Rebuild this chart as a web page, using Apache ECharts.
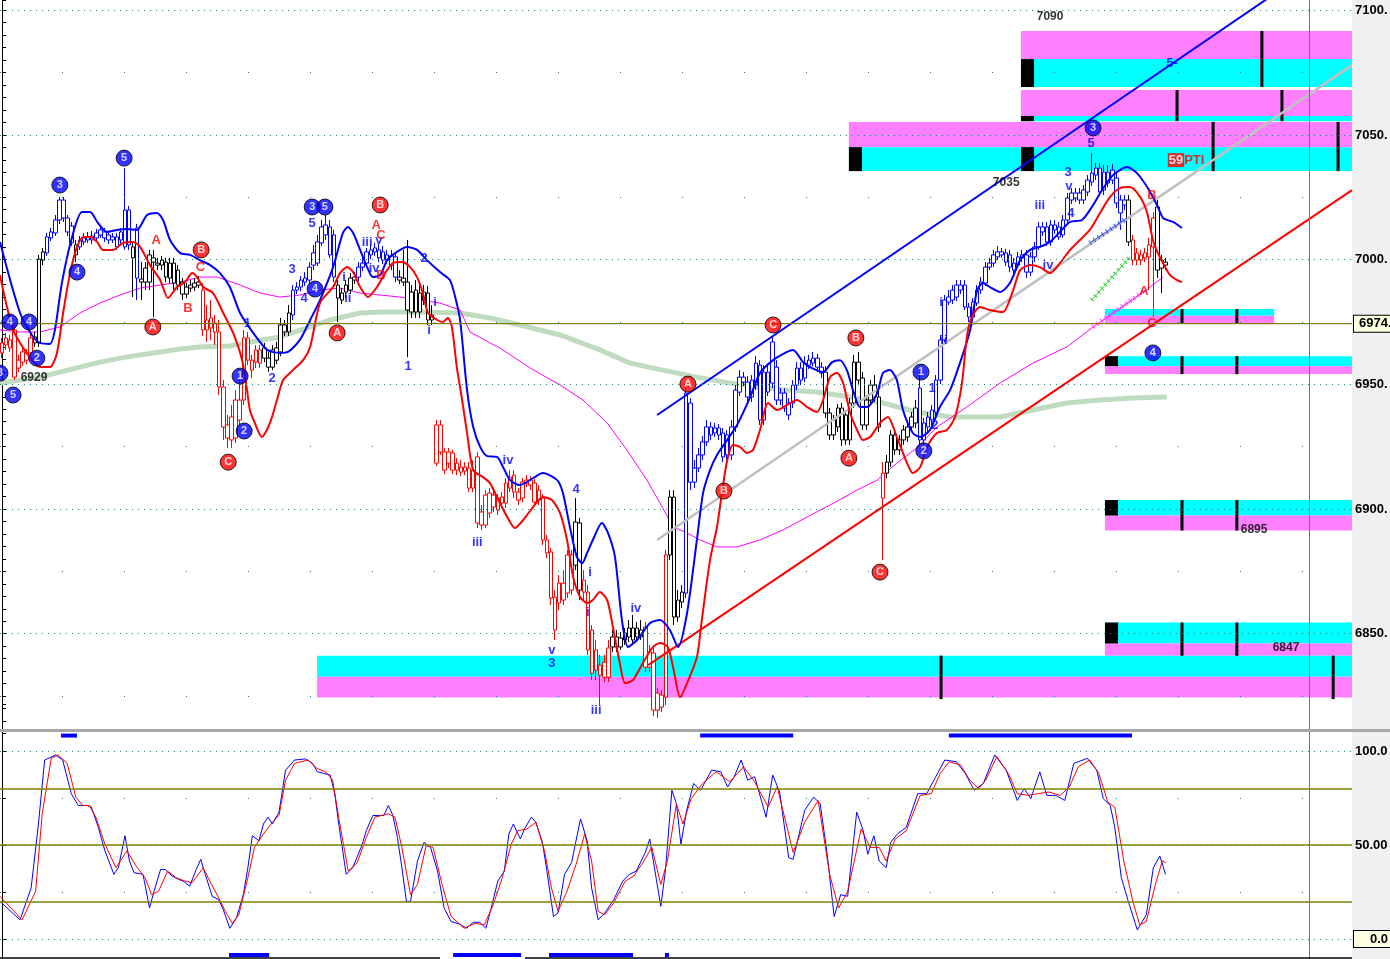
<!DOCTYPE html>
<html><head><meta charset="utf-8">
<script src="https://cdn.jsdelivr.net/npm/echarts@6/dist/echarts.min.js"></script>
<style>html,body{margin:0;padding:0;background:#f0f0f0;overflow:hidden}#c{width:1390px;height:990px}</style>
</head><body><div id="c"></div>
<script>
// ---------------- DATA ----------------
// candles: [open, close, low, high], one per bar
const candles = [
[6966.6,6962.6,6960.5,6968.6],[6965.8,6968.6,6963.8,6970.6],[6964.6,6967.8,6963.0,6969.8],[6971.8,6952.9,6951.7,6973.8],
[6956.5,6959.7,6954.9,6961.8],[6958.9,6963.0,6957.3,6964.6],[6959.7,6962.6,6958.1,6964.2],[6962.6,6968.6,6960.9,6970.6],
[6969.0,6966.6,6965.0,6971.0],[6966.6,7000.2,6965.0,7001.9],[6999.8,7003.1,6997.8,7004.7],[7002.7,7009.1,7001.5,7010.7],
[7008.7,7011.1,7007.5,7012.7],[7010.7,7015.9,7009.5,7017.9],[7015.9,7023.9,7014.3,7025.1],[7023.9,7016.7,7015.1,7025.1],
[7016.7,7011.1,7009.5,7017.9],[7013.5,7006.7,7005.5,7015.1],[7005.9,7001.9,6999.0,7007.9],[7005.1,7007.9,7003.9,7009.5],
[7007.1,7008.7,7005.9,7010.7],[7007.9,7009.1,7006.7,7011.1],[7007.9,7009.5,7006.3,7011.5],[7008.7,7010.7,7007.1,7012.3],
[7009.9,7011.9,7008.7,7013.5],[7011.1,7008.7,7007.1,7012.7],[7009.9,7007.9,7006.3,7011.5],[7007.9,7009.1,7006.7,7010.7],
[7009.1,7005.1,7003.9,7010.7],[7007.9,7011.1,7006.3,7012.7],[7005.1,7019.9,7003.9,7036.7],[7019.9,7005.9,7003.9,7021.5],
[7005.1,7000.7,6985.0,7006.7],[7012.7,6992.6,6983.8,7014.3],[6992.2,6991.0,6983.8,6999.0],[6991.0,6996.6,6987.8,6999.0],
[6991.0,7001.9,6987.8,7003.9],[7000.7,6999.0,6977.0,7003.9],[6998.6,6997.8,6995.8,7000.7],[6997.8,6999.8,6995.8,7001.5],
[6999.0,6993.0,6991.0,7000.7],[6992.6,6998.6,6990.6,7000.7],[6998.6,6990.6,6987.8,7000.7],[6995.8,6989.8,6987.8,6997.8],
[6991.0,6986.2,6983.8,6992.6],[6986.2,6989.0,6984.6,6990.6],[6989.8,6988.6,6987.0,6991.8],[6989.0,6990.6,6987.4,6992.6],
[6991.0,6989.8,6988.6,6993.4],[6987.8,6971.8,6969.4,6990.6],[6971.8,6975.8,6967.0,6981.8],[6972.6,6976.6,6967.8,6983.8],
[6974.6,6971.0,6965.8,6977.8],[6971.0,6948.9,6945.7,6975.8],[6948.9,6932.9,6927.7,6951.7],[6933.7,6928.5,6924.5,6937.7],
[6927.7,6936.9,6924.5,6941.7],[6928.5,6943.7,6926.5,6947.7],[6935.7,6943.7,6933.7,6951.7],[6943.7,6968.6,6941.7,6971.8],
[6968.6,6959.7,6957.7,6971.0],[6955.7,6959.7,6952.5,6961.8],[6963.8,6958.9,6956.5,6965.8],[6958.5,6963.8,6956.5,6965.8],
[6964.6,6960.5,6958.9,6966.6],[6960.5,6956.9,6954.9,6963.0],[6956.9,6963.8,6955.7,6965.8],[6959.7,6964.6,6958.1,6967.0],
[6963.0,6973.8,6961.3,6976.6],[6973.8,6971.0,6969.4,6975.8],[6971.0,6978.6,6969.4,6981.8],[6977.8,6987.8,6975.8,6989.8],
[6987.8,6989.0,6986.2,6991.0],[6989.0,6991.8,6987.4,6993.4],[6991.0,6992.6,6989.4,6995.0],[6991.8,6997.0,6990.2,6999.0],
[6997.8,7002.7,6995.8,7005.9],[6998.6,7007.1,6997.4,7009.9],[7006.7,7013.1,7005.5,7015.9],[7009.9,7013.9,7007.9,7017.9],
[7013.1,7001.9,7000.7,7015.9],[7009.9,6993.0,6991.0,7011.9],[6989.8,6984.6,6975.0,6991.8],[6986.6,6983.8,6982.2,6988.6],
[6987.0,6989.8,6984.6,6991.8],[6987.8,6992.6,6986.2,6994.6],[6991.8,6993.0,6990.2,6995.0],[6993.0,6997.0,6991.4,6999.0],
[6997.0,6998.6,6995.4,7001.5],[6998.6,7003.1,6997.0,7004.7],[7001.9,7003.9,7000.2,7005.9],[7003.1,7004.7,7001.5,7006.7],
[7003.9,7000.7,6999.0,7006.3],[7003.1,6999.8,6998.2,7005.5],[6999.8,7001.9,6998.2,7003.9],[7001.5,6997.8,6995.8,7003.9],
[7001.1,6993.0,6991.0,7002.7],[6993.0,6991.8,6990.2,6995.8],[6992.6,6991.0,6989.4,7003.9],[6991.0,6979.8,6960.9,7007.9],
[6979.0,6987.0,6976.6,6989.8],[6987.8,6979.0,6976.6,6991.8],[6979.0,6986.6,6976.6,6989.8],[6983.8,6987.0,6981.8,6989.8],
[6986.6,6975.8,6973.8,6989.4],[6975.8,6977.8,6973.8,6981.8],[6918.4,6933.7,6917.2,6935.7],[6933.7,6922.9,6921.7,6935.7],
[6915.6,6922.9,6914.0,6924.5],[6922.9,6918.4,6916.4,6924.5],[6915.6,6922.5,6914.0,6923.7],[6918.4,6915.6,6913.6,6920.5],
[6914.8,6916.8,6913.2,6919.6],[6915.2,6916.8,6913.6,6918.8],[6916.4,6908.4,6906.8,6918.8],[6908.4,6915.6,6906.8,6919.6],
[6920.9,6894.4,6892.4,6922.9],[6893.6,6898.8,6891.6,6901.6],[6893.6,6905.6,6892.4,6907.6],[6898.4,6906.4,6896.4,6908.4],
[6905.6,6900.8,6898.8,6907.6],[6904.4,6899.6,6897.6,6906.0],[6902.4,6904.8,6900.4,6906.8],[6902.4,6910.4,6900.4,6912.4],
[6908.4,6912.8,6906.8,6915.6],[6913.6,6906.8,6904.4,6915.6],[6906.8,6903.6,6901.6,6908.4],[6904.4,6910.8,6902.8,6912.4],
[6910.4,6911.6,6908.8,6913.6],[6909.6,6911.6,6907.6,6913.2],[6910.4,6902.8,6901.2,6912.0],[6907.6,6903.6,6901.6,6909.6],
[6904.4,6887.6,6885.6,6906.0],[6887.6,6882.4,6880.3,6889.6],[6882.8,6864.3,6861.5,6884.4],[6864.7,6851.5,6847.5,6867.5],
[6862.3,6870.3,6859.5,6873.5],[6863.5,6870.3,6861.5,6875.5],[6866.3,6881.6,6864.3,6883.6],[6881.6,6867.5,6865.5,6883.6],
[6877.5,6894.8,6875.5,6904.4],[6894.4,6867.5,6863.5,6896.4],[6871.5,6866.7,6863.5,6875.5],[6866.7,6843.5,6841.5,6869.5],
[6851.5,6834.2,6831.4,6853.5],[6843.5,6835.4,6831.4,6847.5],[6833.4,6837.4,6821.4,6841.5],[6838.6,6832.6,6830.6,6841.5],
[6832.6,6844.3,6830.6,6847.5],[6844.7,6848.7,6842.7,6851.5],[6848.7,6844.7,6842.7,6851.5],[6844.7,6848.3,6843.5,6850.7],
[6847.5,6850.3,6845.5,6852.3],[6848.7,6852.3,6846.7,6855.5],[6852.3,6847.5,6845.5,6857.5],[6848.7,6852.3,6846.7,6854.7],
[6848.7,6851.5,6847.5,6855.5],[6852.7,6836.6,6834.6,6854.7],[6836.6,6842.7,6834.6,6845.5],[6842.3,6819.4,6817.0,6844.3],
[6826.2,6819.4,6816.2,6828.2],[6820.6,6825.4,6818.6,6827.4],[6824.6,6881.6,6821.4,6883.6],[6881.6,6904.8,6879.5,6907.6],
[6904.8,6856.7,6853.5,6907.6],[6856.7,6863.5,6854.7,6867.5],[6862.7,6866.7,6860.3,6869.5],[6866.3,6946.5,6864.3,6949.7],
[6942.5,6910.8,6907.6,6944.5],[6910.8,6916.4,6908.4,6919.6],[6916.4,6921.7,6914.8,6924.5],[6921.7,6926.9,6919.6,6929.3],
[6926.9,6932.9,6925.3,6935.7],[6932.9,6929.7,6927.7,6934.9],[6930.5,6932.5,6928.9,6934.5],[6932.5,6929.7,6927.7,6934.1],
[6930.5,6920.9,6918.8,6932.5],[6929.7,6921.7,6919.6,6931.7],[6921.7,6932.9,6919.6,6935.7],[6932.9,6947.7,6930.9,6949.7],
[6946.9,6952.9,6945.3,6955.7],[6950.9,6952.9,6949.3,6954.9],[6950.9,6944.9,6942.9,6953.3],[6944.9,6951.7,6942.9,6953.7],
[6949.7,6958.5,6947.7,6961.3],[6957.7,6935.7,6933.7,6959.7],[6935.7,6954.9,6933.7,6957.7],[6954.9,6946.9,6945.3,6957.7],
[6967.0,6950.5,6948.5,6969.4],[6956.9,6943.7,6941.7,6959.7],[6943.7,6946.5,6941.7,6948.5],[6946.5,6940.5,6938.9,6948.5],
[6937.7,6942.5,6935.7,6944.5],[6942.5,6949.7,6940.5,6951.7],[6949.7,6956.5,6947.7,6958.9],[6956.5,6951.7,6949.7,6958.9],
[6952.5,6958.5,6950.9,6961.3],[6957.7,6959.7,6956.1,6961.8],[6958.5,6960.5,6957.3,6963.0],[6960.5,6956.9,6954.9,6962.2],
[6956.9,6954.5,6952.5,6958.9],[6954.9,6938.5,6936.5,6957.3],[6938.5,6929.7,6927.7,6940.5],[6929.7,6935.7,6927.7,6937.7],
[6932.9,6940.5,6930.9,6942.1],[6940.5,6927.7,6925.3,6942.5],[6937.7,6927.7,6925.7,6939.7],[6927.7,6942.5,6925.7,6944.5],
[6942.5,6958.9,6940.5,6961.8],[6958.9,6951.7,6949.7,6963.0],[6952.5,6933.7,6931.7,6954.9],[6933.7,6943.7,6931.7,6945.7],
[6943.7,6949.7,6941.7,6951.7],[6949.7,6944.9,6942.9,6953.7],[6944.9,6932.9,6930.9,6947.7],[6904.4,6914.4,6879.5,6918.8],
[6914.4,6918.8,6912.4,6921.7],[6918.8,6929.7,6916.8,6931.7],[6929.7,6923.7,6921.7,6931.7],[6923.7,6927.7,6921.7,6929.7],
[6927.7,6931.7,6925.7,6933.7],[6928.9,6932.9,6926.9,6935.7],[6932.9,6936.9,6930.9,6938.9],[6934.5,6940.5,6932.5,6943.7],
[6948.5,6927.7,6925.7,6954.9],[6927.7,6934.5,6925.7,6936.5],[6932.9,6936.9,6930.9,6938.9],[6935.7,6939.7,6933.7,6941.7],
[6938.9,6951.7,6937.3,6953.7],[6951.7,6967.8,6950.1,6969.8],[6967.8,6983.8,6965.8,6985.8],[6983.0,6985.0,6981.8,6987.8],
[6983.8,6987.8,6982.2,6989.8],[6985.0,6989.8,6983.4,6991.8],[6987.8,6989.8,6986.2,6991.8],[6989.8,6981.0,6979.8,6991.8],
[6981.0,6977.0,6975.0,6982.6],[6977.0,6983.0,6975.8,6984.6],[6982.6,6987.8,6981.4,6989.8],[6987.8,6991.0,6986.2,6993.0],
[6990.6,6997.0,6989.4,6999.0],[6997.0,6998.6,6995.8,7000.7],[6998.6,7001.9,6997.0,7003.9],[7001.1,7003.1,6999.8,7005.5],
[7001.9,7003.1,7000.7,7004.7],[7002.7,6999.0,6997.4,7004.3],[7001.9,6997.0,6995.0,7003.9],[6995.8,6998.6,6994.2,7000.7],
[6997.8,7001.1,6996.6,7003.1],[7000.7,7001.9,6999.0,7003.9],[7001.9,6995.0,6992.6,7003.9],[6995.0,7001.1,6993.4,7003.1],
[7001.1,7005.1,6999.0,7007.1],[7005.1,7013.1,7003.9,7015.1],[7011.1,7013.1,7009.5,7015.1],[7013.1,7007.1,7005.5,7015.1],
[7007.1,7013.9,7005.5,7015.9],[7011.9,7013.9,7010.3,7015.9],[7013.1,7009.1,7007.9,7015.1],[7009.9,7015.9,7008.7,7017.9],
[7015.9,7024.7,7014.3,7026.7],[7023.9,7026.7,7022.3,7028.7],[7024.7,7026.7,7023.1,7028.7],[7026.7,7023.9,7022.3,7028.7],
[7023.9,7027.9,7022.3,7029.9],[7027.1,7031.9,7025.5,7033.9],[7031.1,7034.7,7029.5,7042.7],[7033.9,7036.7,7031.9,7038.7],
[7036.7,7027.1,7025.5,7038.7],[7035.1,7027.9,7025.9,7037.9],[7030.7,7035.1,7029.1,7037.9],[7031.9,7035.9,7030.3,7038.3],
[7032.7,7022.7,7020.7,7035.1],[7018.7,7023.9,7011.9,7025.9],[7021.9,7023.9,7019.9,7025.9],[7023.9,7007.1,7005.5,7025.9],
[7007.9,6999.8,6997.8,7009.9],[6999.8,7002.7,6997.8,7004.7],[7001.9,6999.8,6997.8,7003.9],[7000.7,7002.7,6999.0,7004.7],
[7001.1,7005.9,6987.8,7008.7],[7005.1,7016.7,6977.0,7019.1],[7021.1,6995.8,6992.6,7023.9],[6996.6,6999.8,6986.6,7001.9],
[6999.0,6997.8,6995.8,7000.7]
];
// trend state per bar range: [firstBar, lastBar, state]
const trendSegments = [
[0,7,'down'],[8,10,'flat'],[11,17,'up'],[18,18,'flat'],[19,31,'up'],[32,32,'flat'],[33,33,'up'],[34,48,'flat'],
[49,63,'down'],[64,70,'flat'],[71,81,'up'],[82,86,'flat'],[87,96,'up'],[97,105,'flat'],[106,139,'down'],[140,141,'flat'],
[142,148,'down'],[149,156,'flat'],[157,162,'down'],[163,166,'flat'],[167,200,'up'],[201,214,'flat'],[215,215,'down'],
[216,223,'flat'],[224,274,'up'],[275,275,'flat'],[276,281,'down'],[282,284,'flat']
];
// indicator curves: [bar, price]
const blueBand = [[-0.5,7007.1],[4.4,6978.6],[7.6,6969.0],[9.3,6966.6],[11.7,6966.2],[12.9,6971.8],[14.6,6990.6],[17.1,7009.1],[19.5,7019.1],[21.5,7019.1],[23.4,7014.7],[25.6,7011.1],[28.1,7011.9],[30.5,7012.3],[32.9,7011.9],[35.4,7017.9],[37.8,7018.7],[39.3,7015.9],[41.0,7007.9],[43.4,7002.7],[45.9,7001.9],[48.3,6999.8],[50.8,6997.8],[53.2,6994.6],[55.6,6989.0],[58.1,6978.6],[61.3,6970.6],[64.7,6963.8],[67.8,6962.6],[69.8,6963.0],[72.7,6967.8],[75.2,6975.8],[77.6,6983.8],[80.8,6997.0],[83.2,7010.7],[84.4,7013.1],[85.7,7010.7],[87.4,7003.9],[89.1,6997.0],[90.5,6993.0],[92.3,6993.8],[94.0,6999.8],[96.4,7003.1],[98.8,7005.1],[101.3,7003.9],[103.7,6999.8],[106.9,6995.0],[109.3,6991.8],[110.6,6985.0],[111.8,6975.8],[113.5,6947.7],[115.0,6932.9],[116.7,6924.9],[118.4,6921.2],[120.8,6920.9],[122.3,6916.8],[124.0,6911.6],[126.4,6909.6],[129.6,6912.4],[132.0,6914.4],[135.5,6911.6],[136.9,6906.4],[138.6,6892.8],[140.3,6880.8],[141.6,6878.3],[142.8,6882.4],[144.2,6887.6],[146.4,6894.4],[147.9,6890.4],[149.6,6880.8],[151.3,6855.5],[152.8,6844.7],[155.0,6847.5],[158.2,6854.3],[160.6,6855.5],[163.0,6851.5],[165.0,6844.7],[167.2,6858.3],[169.6,6887.6],[171.1,6906.4],[172.8,6915.6],[174.5,6921.7],[177.0,6927.7],[179.4,6933.7],[182.6,6944.9],[185.0,6954.5],[188.2,6959.7],[191.6,6963.0],[193.1,6963.8],[195.5,6958.9],[197.2,6956.9],[200.4,6954.9],[202.6,6958.9],[204.5,6959.7],[206.2,6955.7],[207.7,6947.7],[209.4,6940.9],[211.1,6940.9],[213.6,6946.5],[215.0,6954.5],[216.7,6955.7],[218.4,6951.7],[219.9,6939.7],[222.3,6930.5],[224.1,6928.9],[226.5,6931.7],[228.9,6940.9],[231.4,6947.7],[233.8,6958.5],[236.3,6971.8],[238.0,6987.8],[239.4,6990.6],[241.1,6989.0],[243.6,6987.0],[246.0,6990.6],[248.5,6999.8],[250.9,7003.9],[253.3,7005.1],[255.8,7007.1],[258.2,7011.1],[260.7,7015.1],[263.6,7015.9],[266.0,7021.1],[268.5,7027.9],[271.2,7033.9],[274.6,7037.1],[277.0,7034.7],[279.5,7029.1],[281.9,7021.9],[283.4,7016.7],[285.8,7015.1],[288.0,7012.7]];
const redBand = [[-0.5,6993.8],[1.2,6981.0],[2.7,6971.8],[4.4,6966.6],[6.8,6960.9],[9.3,6956.9],[11.7,6956.9],[13.4,6962.6],[14.9,6978.6],[16.6,6994.6],[18.3,7005.1],[19.8,7009.1],[21.5,7009.1],[23.2,7007.1],[24.6,7003.9],[27.1,7003.9],[29.5,7006.7],[32.0,7007.1],[33.7,7005.1],[36.1,6997.8],[38.6,6991.8],[40.5,6984.6],[42.7,6989.0],[44.7,6991.0],[46.4,6994.6],[47.6,6993.0],[49.1,6989.0],[51.5,6986.6],[54.0,6978.6],[56.4,6970.6],[58.6,6959.7],[59.8,6947.7],[60.5,6939.7],[61.7,6934.5],[63.4,6928.9],[65.4,6934.5],[67.1,6943.7],[68.6,6951.7],[71.0,6955.7],[73.5,6959.7],[75.2,6965.0],[77.6,6982.6],[80.8,6989.0],[82.5,6994.6],[84.2,6997.0],[85.7,6995.0],[87.4,6989.0],[89.3,6985.0],[91.5,6989.0],[93.5,6994.6],[95.4,6998.6],[97.6,6999.0],[99.6,6997.0],[101.3,6993.0],[102.7,6986.6],[104.0,6978.6],[106.2,6975.8],[107.6,6975.0],[108.8,6976.6],[109.8,6973.0],[111.0,6956.9],[112.3,6943.7],[113.5,6930.5],[115.0,6915.6],[117.4,6912.8],[119.1,6910.4],[120.8,6904.8],[123.3,6896.8],[125.2,6892.4],[127.2,6895.6],[129.6,6900.8],[132.0,6904.8],[134.2,6903.6],[136.2,6898.4],[137.9,6887.6],[139.4,6872.7],[141.1,6864.7],[142.8,6862.3],[144.2,6863.5],[145.9,6866.7],[147.7,6863.5],[149.1,6852.7],[150.8,6838.2],[152.1,6830.2],[154.0,6831.4],[156.4,6838.2],[158.9,6844.7],[160.6,6846.3],[162.5,6844.7],[163.8,6836.6],[165.5,6824.6],[167.2,6830.2],[169.6,6840.6],[170.8,6855.5],[172.8,6879.5],[174.5,6892.8],[175.7,6906.4],[177.0,6919.6],[178.4,6925.7],[180.1,6924.9],[181.8,6922.5],[183.3,6923.7],[185.0,6931.7],[187.0,6942.5],[189.2,6939.7],[191.6,6941.7],[194.0,6943.7],[196.5,6940.9],[198.9,6938.9],[200.4,6943.7],[202.1,6952.9],[203.8,6954.5],[205.3,6950.5],[207.0,6938.5],[208.7,6931.7],[210.1,6927.7],[211.9,6928.9],[214.3,6934.5],[216.2,6936.9],[218.4,6928.9],[220.9,6918.4],[222.3,6914.4],[224.1,6916.8],[225.8,6924.9],[228.2,6930.5],[230.6,6931.7],[232.6,6936.9],[234.3,6950.5],[235.5,6969.0],[236.7,6977.0],[238.7,6981.0],[241.1,6979.8],[244.3,6979.0],[246.8,6987.8],[248.5,6995.8],[250.9,6997.8],[253.3,6997.0],[255.8,6994.6],[258.2,6998.6],[260.7,7003.9],[263.1,7007.9],[265.5,7011.9],[268.0,7018.7],[270.4,7025.1],[272.9,7028.7],[275.3,7029.1],[277.8,7025.1],[279.5,7018.7],[280.9,7007.9],[282.1,7002.7],[283.9,6997.0],[285.1,6993.8],[286.8,6991.8],[288.0,6991.0]];
const magentaMA = [[-0.5,6971.8],[4.4,6971.0],[9.3,6971.0],[14.1,6973.0],[19.0,6978.6],[23.9,6982.6],[28.8,6985.8],[33.7,6988.6],[38.6,6989.8],[43.4,6991.0],[48.3,6993.0],[52.5,6993.0],[58.1,6989.8],[63.0,6986.6],[67.8,6985.0],[72.7,6985.8],[77.6,6987.8],[82.5,6988.6],[87.4,6986.6],[92.3,6985.8],[97.1,6985.0],[102.0,6983.8],[106.9,6982.6],[111.8,6979.8],[114.2,6971.0],[119.1,6966.6],[121.5,6964.6],[128.9,6956.5],[136.2,6949.7],[141.8,6943.7],[147.7,6934.5],[152.5,6923.7],[157.4,6911.6],[160.6,6902.4],[163.8,6892.8],[167.2,6890.4],[170.4,6887.6],[174.5,6884.8],[179.4,6884.8],[185.0,6887.6],[190.6,6891.6],[196.5,6896.8],[202.1,6901.6],[208.7,6907.6],[213.6,6911.6],[218.4,6918.4],[223.3,6924.5],[228.2,6932.9],[235.5,6940.9],[243.6,6950.5],[251.6,6958.5],[259.9,6965.0],[266.3,6973.0],[276.0,6983.8],[283.4,6993.0]];
const greenMA = [[-0.5,6950.5],[4.4,6951.7],[9.3,6952.9],[14.1,6954.9],[19.0,6956.9],[23.9,6958.9],[28.8,6960.5],[33.7,6961.8],[38.6,6963.0],[43.4,6964.2],[48.3,6965.0],[55.6,6965.4],[60.5,6967.0],[67.8,6969.0],[75.2,6973.0],[80.0,6975.8],[87.4,6978.6],[92.3,6979.0],[102.0,6979.0],[111.8,6978.6],[119.1,6976.6],[126.4,6973.8],[136.2,6969.8],[145.9,6963.8],[153.3,6958.5],[161.3,6955.7],[169.6,6952.9],[177.7,6950.5],[190.6,6947.7],[198.9,6946.9],[207.0,6944.9],[215.0,6942.5],[223.3,6938.9],[231.4,6936.9],[243.6,6936.9],[251.6,6939.7],[259.9,6942.5],[268.0,6943.7],[276.0,6944.5],[284.3,6944.9]];
// trend channel and projection lines: [bar, price]
const channelBlue = [[159.9,6937.7],[309.0,7104.8]];
const channelRed = [[157.7,6837.4],[329.5,7027.9]];
const channelGrey = [[159.9,6887.6],[329.5,7078.0]];
const projBlue = [[265.5,7006.7],[274.6,7016.7]];
const projGreen = [[266.0,6983.8],[275.3,7001.1]];
const projMagenta = [[266.3,6973.0],[279.0,6987.8]];
// target zones: [fromBar, toBar, topPrice, splitPrice, bottomPrice, upperBand]
const zoneBands = [
[248.7,329.5,7091.7,7080.4,7069.2,'m'],[248.7,329.5,7068.0,7057.6,7055.5,'m'],[206.7,329.5,7055.2,7045.1,7035.5,'m'],
[269.2,310.5,6980.2,6977.5,6974.3,'c'],[269.2,329.5,6961.3,6957.3,6954.1,'c'],[269.2,329.5,6903.6,6897.4,6891.4,'c'],
[269.2,329.5,6854.5,6846.1,6841.2,'c'],[76.9,329.5,6841.2,6832.8,6824.4,'c']
];
const zoneBlocks = [[248.7,251.9,7080.4,7069.2],[248.7,251.9,7057.6,7055.5],[206.7,209.9,7045.1,7035.5],[248.7,251.9,7045.1,7035.5],
[269.2,272.4,6961.3,6957.3],[269.2,272.4,6903.6,6897.4],[269.2,272.4,6854.5,6846.1]];
const zoneTicks = [[307.5,7091.7,7069.2],[286.8,7068.0,7055.5],[312.4,7068.0,7055.5],[295.6,7055.2,7035.5],[326.1,7055.2,7035.5],
[288.0,6980.2,6974.3],[301.4,6980.2,6974.3],[288.0,6961.3,6954.1],[301.4,6961.3,6954.1],[288.0,6903.6,6891.4],[301.4,6903.6,6891.4],
[288.0,6854.5,6841.2],[301.4,6854.5,6841.2],[229.2,6841.2,6823.8],[324.9,6841.2,6823.8]];
// wave labels: [bar, price, text]
const blueCircleLabels = [[-0.5,6954.5,'3'],[1.9,6975.0,'4'],[2.7,6945.7,'5'],[6.6,6975.0,'4'],[8.5,6960.5,'2'],[14.1,7029.9,'3'],[18.3,6995.0,'4'],[29.8,7040.7,'5'],[58.1,6953.3,'1'],[59.1,6931.3,'2'],[75.7,7021.1,'3'],[78.8,7021.1,'5'],[76.4,6988.2,'4'],[224.3,6954.9,'1'],[225.0,6923.3,'2'],[266.3,7052.8,'3'],[280.9,6962.6,'4']];
const redCircleLabels = [[36.8,6973.0,'A'],[48.6,7003.9,'B'],[55.2,6918.8,'C'],[81.8,6970.6,'A'],[92.3,7021.9,'B'],[167.4,6950.1,'A'],[176.2,6907.2,'B'],[188.2,6973.8,'C'],[208.4,6968.6,'B'],[206.7,6920.4,'A'],[214.3,6874.7,'C']];
const blueTextLabels = [[59.9,6974.6,'1'],[65.9,6952.5,'2'],[70.8,6996.2,'3'],[73.7,6984.6,'4'],[75.7,7014.7,'5'],[83.5,6993.0,'i'],[84.4,6984.6,'ii'],[89.1,7007.1,'iii'],[92.0,7007.9,'v'],[90.8,6996.6,'iv'],[99.1,6957.3,'1'],[103.0,7000.6,'2'],[105.7,6983.0,'i'],[104.2,6971.8,'i'],[116.0,6886.8,'iii'],[123.5,6919.6,'iv'],[134.2,6843.5,'v'],[134.2,6838.2,'3'],[140.1,6908.0,'4'],[143.5,6874.7,'i'],[143.0,6858.7,'i'],[145.0,6819.4,'iii'],[154.7,6860.3,'iv'],[227.0,6948.5,'1'],[227.7,6933.7,'2'],[229.2,6983.0,'i'],[229.9,6967.8,'ii'],[253.3,7021.9,'iii'],[255.3,6997.8,'iv'],[260.2,7035.1,'3'],[260.4,7029.5,'v'],[260.9,7018.7,'4'],[265.8,7046.4,'5'],[285.6,7078.8,'5-']];
const redTextLabels = [[37.6,7007.9,'A'],[45.4,6980.6,'B'],[48.4,6997.0,'C'],[91.3,7013.9,'A'],[92.5,7009.9,'C'],[92.5,6993.8,'B'],[280.7,7025.9,'B'],[278.7,6987.4,'A'],[280.7,6974.6,'C']];
const blackTextLabels = [[7.8,6952.5,'6929'],[255.8,7097.3,'7090'],[245.1,7030.8,'7035'],[305.6,6891.9,'6895'],[313.4,6844.3,'6847']];
const ptiLabel = [[289.0,7039.9,'59','PTI']];
const lastPrice = 6974.3, lastPriceText = '6974.';
const cursorBar = 319.0;
const priceLabelValues = [6850,6900,6950,7000,7050,7100];
// stochastic: [bar, value]
const stochK = [[-0.5,20.0],[4.4,10.2],[7.1,27.2],[8.8,59.4],[10.4,95.2],[13.1,97.9],[14.8,95.2],[16.9,77.3],[18.6,71.0],[20.8,71.0],[21.8,70.2],[23.5,59.4],[25.1,46.9],[27.3,34.4],[28.4,37.9],[30.0,54.9],[31.1,41.5],[32.2,35.3],[34.4,34.4],[36.0,16.5],[37.1,25.4],[38.7,37.0],[39.8,37.0],[41.5,33.5],[43.1,31.7],[44.2,30.8],[45.8,28.1],[47.4,37.0],[48.5,42.4],[49.6,34.4],[51.3,22.7],[52.9,20.9],[54.0,15.6],[55.6,5.7],[57.2,11.1],[58.9,23.6],[60.0,37.9],[61.1,54.9],[62.7,52.3],[63.8,61.2],[64.9,64.8],[66.0,61.2],[67.6,67.5],[69.2,89.8],[71.4,95.2],[74.1,95.8],[75.8,93.4],[76.9,89.0],[78.5,88.1],[80.1,87.2],[81.2,77.3],[82.3,59.4],[84.0,34.4],[85.6,37.9],[87.8,49.6],[88.9,57.6],[90.5,65.7],[93.2,65.7],[94.3,71.0],[95.4,65.7],[96.5,54.0],[97.6,37.9],[98.7,20.0],[99.7,20.0],[101.4,41.5],[103.0,51.4],[104.6,48.7],[106.3,36.1],[107.9,16.5],[109.6,9.3],[111.7,7.9],[113.4,5.7],[115.0,8.9],[116.6,8.9],[118.1,5.7],[119.4,16.5],[121.0,30.8],[122.6,36.1],[123.7,55.8],[124.8,61.2],[126.5,53.2],[127.5,58.5],[129.2,64.8],[130.3,62.1],[131.9,51.4],[133.0,36.1],[134.6,12.0],[135.7,13.8],[137.3,34.4],[139.0,40.6],[141.2,63.9],[142.8,52.3],[143.9,27.2],[145.5,10.2],[147.1,13.8],[149.3,20.9],[151.5,30.8],[153.1,34.4],[154.8,36.1],[157.0,46.0],[158.1,53.2],[159.7,31.7],[160.8,17.4],[161.9,36.1],[163.5,79.1],[164.6,71.9],[165.7,50.5],[167.1,68.4],[168.8,82.7],[170.5,79.1],[173.2,89.8],[175.4,89.0],[177.1,80.9],[178.7,86.3],[180.4,95.2],[182.0,84.5],[183.7,86.3],[186.5,64.8],[188.1,87.2],[189.8,78.2],[192.0,43.3],[193.1,42.4],[195.9,68.4],[198.1,75.5],[199.7,71.9],[201.4,45.1],[203.1,12.0],[204.7,23.6],[206.4,22.7],[208.6,67.5],[210.2,57.6],[211.3,45.1],[212.8,54.9],[214.1,41.5],[215.8,37.9],[216.9,51.4],[218.5,55.8],[220.7,59.4],[223.5,77.3],[225.7,77.3],[227.9,86.3],[230.1,95.2],[232.9,94.3],[235.1,88.1],[237.3,79.1],[239.5,82.7],[242.3,97.9],[245.1,89.8],[247.8,73.7],[249.5,80.0],[251.1,74.6],[253.3,88.9],[255.0,76.4],[257.2,76.4],[259.4,73.7],[261.6,93.4],[264.9,96.1],[267.2,89.8],[268.8,74.6],[270.5,71.0],[271.6,59.4],[273.2,32.6],[274.9,20.0],[277.1,4.8],[279.3,12.9],[281.0,37.9],[282.6,44.1],[284.0,34.4]];
const stochD = [[-0.5,22.7],[4.9,10.2],[8.2,25.4],[9.8,66.6],[12.0,96.1],[13.7,97.9],[15.9,93.4],[18.0,75.5],[19.7,71.0],[21.3,71.0],[22.9,64.8],[25.1,50.5],[27.8,37.9],[30.5,46.9],[32.7,38.8],[34.9,32.6],[36.5,23.6],[38.2,25.4],[40.4,36.1],[42.5,32.6],[44.7,30.8],[46.4,29.9],[49.1,37.9],[50.7,30.8],[52.9,21.8],[54.5,14.7],[56.2,8.4],[57.8,12.9],[60.0,32.6],[61.6,48.7],[63.8,55.8],[66.0,62.1],[67.6,65.7],[69.2,84.5],[71.4,93.4],[74.7,95.2],[76.9,90.7],[79.0,88.9],[80.7,84.5],[82.3,63.0],[84.5,36.1],[86.7,40.6],[88.9,54.0],[91.0,64.8],[94.3,66.6],[95.9,64.8],[97.6,48.7],[99.7,23.6],[101.4,29.0],[103.5,49.6],[105.2,48.7],[107.4,29.0],[109.6,12.0],[112.8,5.7],[115.5,8.4],[117.7,7.5],[119.9,18.3],[122.1,32.6],[124.3,50.5],[125.9,57.6],[128.1,58.5],[130.3,62.1],[132.4,46.9],[134.1,27.2],[135.7,14.7],[137.9,25.4],[140.1,39.7],[142.2,55.8],[143.9,41.5],[145.5,14.7],[147.1,12.9],[149.3,19.2],[152.1,30.8],[154.2,33.5],[156.4,40.6],[158.6,48.7],[160.8,29.0],[162.4,41.5],[164.6,71.9],[166.2,61.2],[168.2,74.6],[171.0,82.7],[174.3,89.0],[177.6,83.6],[181.0,91.6],[183.7,83.6],[187.0,70.2],[189.2,80.9],[193.1,46.0],[195.9,62.1],[199.2,73.7],[202.0,34.4],[204.2,16.5],[206.4,25.4],[209.7,58.5],[211.9,48.7],[214.1,48.7],[215.8,41.5],[218.0,53.2],[220.7,57.6],[224.1,76.4],[226.8,77.3],[229.0,88.1],[231.2,94.3],[234.0,92.5],[236.2,84.5],[238.4,80.0],[240.1,84.5],[242.8,97.0],[245.6,88.1],[247.8,77.3],[250.6,76.4],[252.8,77.3],[255.5,78.2],[258.3,76.4],[260.5,80.9],[262.7,91.6],[265.5,95.2],[267.7,88.1],[269.9,72.8],[271.6,70.2],[273.8,41.5],[276.0,20.0],[277.7,7.5],[279.3,9.3],[281.5,29.0],[283.2,41.5],[284.0,40.6]];
const stochBarsTop = [[14.4,18.3],[170.4,193.1],[231.1,275.8]];
const stochBarsBottom = [[55.4,65.2],[110.1,126.7],[133.5,154.0],[161.8,162.8]];
const stochLevels = {over:80, mid:50, under:20, top:100, bottom:0, barTop:108.2, barBottom:-8.5};

// ---------------- CHART ----------------
const NCAT = 330;
const FONT = '"Liberation Sans", Arial, sans-serif';
const TREND_COLORS = {down:'#ff0000', up:'#0000ff', flat:'#000000'};
const ZONE_COLORS = ['#00ffff','#ff80ff','#000000'];
function trendAt(i){ for (const s of trendSegments) if (i>=s[0] && i<=s[1]) return s[2]; return 'flat'; }
const candleData = candles.map((c,i)=>{ const col = TREND_COLORS[trendAt(i)];
  return {value:c, itemStyle:{color:'#ffffff', color0:col, borderColor:col, borderColor0:col, borderColorDoji:col}}; });
const zoneRects = [];
zoneBands.forEach(z=>{ const up = z[5]==='m'?1:0, lo = z[5]==='m'?0:1;
  zoneRects.push([z[0],z[1],z[2],z[3],up]); zoneRects.push([z[0],z[1],z[3],z[4],lo]); });
zoneBlocks.forEach(b=>zoneRects.push([b[0],b[1],b[2],b[3],2]));

function rectItem(api){ const a = api.coord([api.value(0), api.value(2)]); const b = api.coord([api.value(1), api.value(3)]);
  return {type:'rect', shape:{x:a[0], y:a[1], width:b[0]-a[0], height:b[1]-a[1]}, style:{fill:ZONE_COLORS[api.value(4)]}}; }
function line(data, color, width, extra){ return Object.assign({type:'line', xAxisIndex:1, yAxisIndex:0, data, showSymbol:false, symbol:'none', silent:true, lineStyle:{color, width}}, extra||{}); }
function txt(data, color, size){ return {type:'scatter', xAxisIndex:1, yAxisIndex:0, data, symbolSize:1, silent:true, z:6, itemStyle:{color:'rgba(0,0,0,0)'},
  label:{show:true, position:'inside', formatter:p=>p.data[2], color, fontWeight:'bold', fontSize:size, fontFamily:FONT}}; }
function circ(data, fill){ return {type:'scatter', xAxisIndex:1, yAxisIndex:0, data, symbol:'circle', symbolSize:16, silent:true, z:7,
  itemStyle:{color:fill, borderColor:'#000', borderWidth:1},
  label:{show:true, position:'inside', formatter:p=>p.data[2], color:'#fff', fontWeight:'bold', fontSize:11, fontFamily:FONT}}; }
const dotted = {type:[1,5], color:'#1a8080', width:1};
const sparse = {type:[1,61], color:'#1a8080', width:1};
const olive = {color:'#808000', width:1, type:'solid'};

const mainMarkLines = [];
for (let v=6850; v<=7100; v+=50) mainMarkLines.push({yAxis:v, lineStyle:dotted});
for (let v=6825; v<=7075; v+=50) mainMarkLines.push({yAxis:v, lineStyle:sparse});

const option = {
  animation:false,
  backgroundColor:'#f0f0f0',
  grid:[
    {left:0, right:38, top:0, height:733.5, show:true, backgroundColor:'#ffffff', borderWidth:0, outerBoundsMode:'none', containLabel:false},
    {left:0, right:38, top:704, height:282, show:true, backgroundColor:'#ffffff', borderWidth:0, outerBoundsMode:'none', containLabel:false}
  ],
  xAxis:[
    {type:'category', gridIndex:0, data:Array.from({length:NCAT},(_,i)=>i), boundaryGap:true, show:false},
    {type:'value', gridIndex:0, min:-0.5, max:NCAT-0.5, show:false},
    {type:'value', gridIndex:1, min:-0.5, max:NCAT-0.5, show:false}
  ],
  yAxis:[
    {type:'value', gridIndex:0, position:'right', min:6810, max:7104.1, interval:5, scale:true,
     axisLine:{show:true, lineStyle:{color:'#000', width:1}}, splitLine:{show:false},
     axisTick:{show:true, length:4, lineStyle:{color:'#000'}},
     axisLabel:{show:true, margin:3, color:'#000', fontWeight:'bold', fontSize:13, fontFamily:FONT, hideOverlap:false,
       formatter:v=>priceLabelValues.some(p=>Math.abs(p-v)<0.01) ? Math.round(v)+'.' : ''}},
    {type:'value', gridIndex:1, position:'right', min:-25, max:125, interval:25,
     axisLine:{show:true, lineStyle:{color:'#000', width:1}}, splitLine:{show:false},
     axisTick:{show:true, length:4, lineStyle:{color:'#000'}},
     axisLabel:{show:true, margin:3, color:'#000', fontWeight:'bold', fontSize:13, fontFamily:FONT, hideOverlap:false,
       formatter:v=> v===100?'100.0':(v===50?'50.00':'')}}
  ],
  graphic:[
    {type:'rect', shape:{x:0, y:729, width:1390, height:3}, style:{fill:'#a8a8a8'}, z:100, silent:true},
    {type:'line', shape:{x1:0, y1:958, x2:440, y2:958}, style:{stroke:'#000', lineWidth:1.5}, z:100, silent:true},
    {type:'line', shape:{x1:525, y1:958, x2:1352, y2:958}, style:{stroke:'#000', lineWidth:1.5}, z:100, silent:true},
    {type:'rect', shape:{x:0, y:959, width:1390, height:40}, style:{fill:'#f0f0f0'}, z:100, silent:true}
  ],
  series:[
    {type:'custom', xAxisIndex:1, yAxisIndex:0, data:zoneRects, renderItem:(p,api)=>rectItem(api), silent:true, z:1},
    {type:'custom', xAxisIndex:1, yAxisIndex:0, data:zoneTicks, silent:true, z:1,
     renderItem:(p,api)=>{ const a=api.coord([api.value(0),api.value(1)]), b=api.coord([api.value(0),api.value(2)]);
       return {type:'line', shape:{x1:a[0],y1:a[1],x2:b[0],y2:b[1]}, style:{stroke:'#000', lineWidth:3}}; }},
    line(greenMA, '#c0dcc0', 5, {z:2, markLine:{silent:true, symbol:'none', label:{show:false}, data:mainMarkLines, animation:false}}),
    line([[-0.5,lastPrice],[NCAT-0.5,lastPrice]], '#808000', 1, {z:2,
      markLine:{silent:true, symbol:'none', animation:false,
        data:[{xAxis:cursorBar, lineStyle:olive, label:{show:false}},
              {yAxis:lastPrice, lineStyle:olive, label:{show:true, position:'end', distance:2, formatter:lastPriceText, color:'#000',
                fontWeight:'bold', fontSize:13, fontFamily:FONT, backgroundColor:'#ffffe1', borderColor:'#000', borderWidth:1, padding:[2,8,1,5]}}]}}),
    line(magentaMA, '#ff00ff', 1, {z:2}),
    {type:'candlestick', xAxisIndex:0, yAxisIndex:0, data:candleData, barWidth:4, silent:true, z:3, itemStyle:{borderWidth:1}},
    line(channelGrey, '#c0c0c0', 2.5, {z:4}),
    line(channelBlue, '#0000ff', 2, {z:4}),
    line(channelRed, '#ff0000', 2, {z:4}),
    line(blueBand, '#0000ff', 2, {z:4, smooth:0.25}),
    line(redBand, '#ff0000', 2, {z:4, smooth:0.25}),
    line(projBlue, '#3050ff', 1, {z:4}), line(projBlue, '#3050ff', 5, {z:4, lineStyle:{color:'#3050ff', width:5, type:[1,4]}}),
    line(projGreen, '#30d030', 1, {z:4}), line(projGreen, '#30d030', 5, {z:4, lineStyle:{color:'#30d030', width:5, type:[1,4]}}),
    line(projMagenta, '#ff40ff', 1, {z:4}), line(projMagenta, '#ff40ff', 5, {z:4, lineStyle:{color:'#ff40ff', width:5, type:[1,4]}}),
    txt(blueTextLabels, '#0000ff', 13),
    txt(redTextLabels, '#ff0000', 13),
    txt(blackTextLabels, '#000000', 12),
    {type:'scatter', xAxisIndex:1, yAxisIndex:0, data:ptiLabel, symbolSize:1, silent:true, z:6, itemStyle:{color:'rgba(0,0,0,0)'},
     label:{show:true, position:'inside', formatter:p=>'{a|'+p.data[2]+'}{b|'+p.data[3]+'}',
       rich:{a:{backgroundColor:'#ff0000', color:'#fff', fontWeight:'bold', fontSize:13, fontFamily:FONT, padding:[1,1,0,1]},
             b:{color:'#ff0000', fontWeight:'bold', fontSize:13, fontFamily:FONT}}}},
    circ(blueCircleLabels, '#0000ff'),
    circ(redCircleLabels, '#ff0000'),
    // ---- lower panel ----
    {type:'custom', xAxisIndex:2, yAxisIndex:1, silent:true, z:2,
     data:stochBarsTop.map(b=>[b[0],b[1],stochLevels.barTop]).concat(stochBarsBottom.map(b=>[b[0],b[1],stochLevels.barBottom])),
     renderItem:(p,api)=>{ const a=api.coord([api.value(0),api.value(2)]), b=api.coord([api.value(1),api.value(2)]);
       return {type:'rect', shape:{x:a[0], y:a[1]-2, width:Math.max(b[0]-a[0],2), height:4}, style:{fill:'#0000ff'}}; }},
    {type:'line', xAxisIndex:2, yAxisIndex:1, data:stochK, showSymbol:false, symbol:'none', silent:true, z:3,
     lineStyle:{color:'#0000ff', width:1},
     markLine:{silent:true, symbol:'none', animation:false, label:{show:false},
       data:[{yAxis:stochLevels.top, lineStyle:dotted},{yAxis:stochLevels.mid, lineStyle:dotted},
             {yAxis:75, lineStyle:sparse},{yAxis:25, lineStyle:sparse},
             {yAxis:stochLevels.over, lineStyle:{color:'#808000', width:1.5, type:'solid'}},
             {yAxis:stochLevels.mid, lineStyle:{color:'#808000', width:1.5, type:'solid'}},
             {yAxis:stochLevels.under, lineStyle:{color:'#808000', width:1.5, type:'solid'}},
             {xAxis:cursorBar, lineStyle:olive},
             {yAxis:stochLevels.bottom, lineStyle:dotted, label:{show:true, position:'end', distance:2, formatter:'0.0', color:'#000',
               fontWeight:'bold', fontSize:13, fontFamily:FONT, backgroundColor:'#ffffe1', borderColor:'#000', borderWidth:1, padding:[2,4,1,16]}}]}},
    {type:'line', xAxisIndex:2, yAxisIndex:1, data:stochD, showSymbol:false, symbol:'none', silent:true, z:3,
     lineStyle:{color:'#ff0000', width:1}}
  ]
};
const chart = echarts.init(document.getElementById('c'), null, {renderer:'canvas', width:1390, height:990});
chart.setOption(option);
</script>
</body></html>
